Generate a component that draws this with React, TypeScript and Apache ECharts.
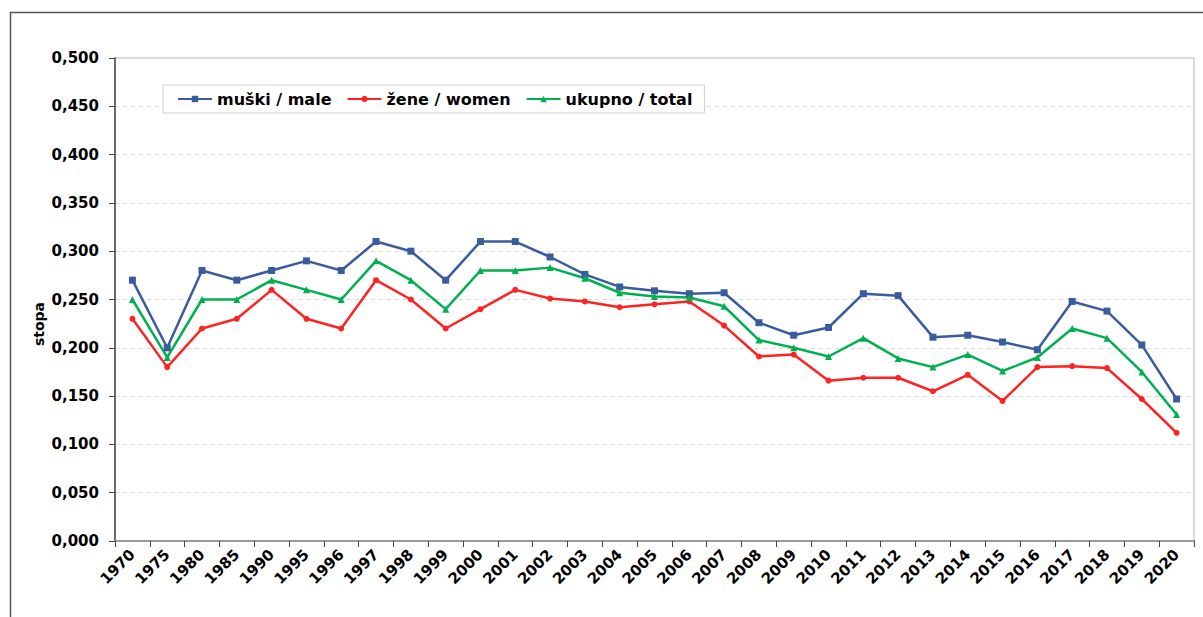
import React, { useEffect, useRef } from "react";
import * as echarts from "echarts";

const years = ["1970","1975","1980","1985","1990","1995","1996","1997","1998","1999","2000","2001","2002","2003","2004","2005","2006","2007","2008","2009","2010","2011","2012","2013","2014","2015","2016","2017","2018","2019","2020"];

const male = [0.270,0.200,0.280,0.270,0.280,0.290,0.280,0.310,0.300,0.270,0.310,0.310,0.294,0.276,0.263,0.259,0.256,0.257,0.226,0.213,0.221,0.256,0.254,0.211,0.213,0.206,0.198,0.248,0.238,0.203,0.147];
const women = [0.230,0.180,0.220,0.230,0.260,0.230,0.220,0.270,0.250,0.220,0.240,0.260,0.251,0.248,0.242,0.245,0.248,0.223,0.191,0.193,0.166,0.169,0.169,0.155,0.172,0.145,0.180,0.181,0.179,0.147,0.112];
const total = [0.250,0.190,0.250,0.250,0.270,0.260,0.250,0.290,0.270,0.240,0.280,0.280,0.283,0.272,0.257,0.253,0.252,0.243,0.208,0.200,0.191,0.210,0.189,0.180,0.193,0.176,0.190,0.220,0.210,0.175,0.131];

const seriesNames = ["muški / male", "žene / women", "ukupno / total"];
const yAxisName = "stopa";

const FONT = "'DejaVu Sans', Verdana, sans-serif";

export default function App() {
  const ref = useRef<HTMLDivElement>(null);
  useEffect(() => {
    if (!ref.current) return;
    const chart = echarts.init(ref.current, null, { renderer: "svg" });
    chart.setOption({
      animation: false,
      backgroundColor: "#ffffff",
      textStyle: { fontFamily: FONT },
      graphic: [
        {
          type: "rect",
          shape: { x: 10.5, y: 12.5, width: 1300, height: 700 },
          style: { fill: "none", stroke: "#555555", lineWidth: 1.5 },
          silent: true,
          z: -10,
        },
        {
          type: "rect",
          shape: { x: 115, y: 58, width: 1079, height: 483 },
          style: { fill: "none", stroke: "#d0d0d0", lineWidth: 1.5 },
          silent: true,
          z: -5,
        },
        {
          type: "text",
          x: 39,
          y: 324,
          rotation: Math.PI / 2,
          style: {
            text: yAxisName,
            fontFamily: FONT,
            fontWeight: "bold",
            fontSize: 14,
            fill: "#000",
            align: "center",
            verticalAlign: "middle",
          },
          silent: true,
        },
      ],
      legend: {
        left: 163,
        top: 85,
        padding: [6, 12, 6, 14],
        itemGap: 15,
        itemWidth: 34,
        itemHeight: 8,
        borderColor: "#cfcfcf",
        borderWidth: 1,
        backgroundColor: "#ffffff",
        textStyle: { fontFamily: FONT, fontWeight: "bold", fontSize: 16, color: "#000" },
        data: seriesNames,
      },
      grid: { left: 115, right: 9, top: 58, bottom: 76, containLabel: false },
      xAxis: {
        type: "category",
        data: years,
        boundaryGap: true,
        axisLine: { lineStyle: { color: "#999999", width: 2 } },
        axisTick: { show: true, alignWithLabel: false, length: 6, lineStyle: { color: "#444", width: 1 } },
        axisLabel: {
          rotate: 45,
          interval: 0,
          margin: 11,
          fontFamily: FONT,
          fontWeight: "bold",
          fontSize: 15,
          color: "#000",
        },
      },
      yAxis: {
        type: "value",
        min: 0,
        max: 0.5,
        interval: 0.05,
        axisLine: { show: true, lineStyle: { color: "#444", width: 1.5 } },
        axisTick: { show: true, length: 6, lineStyle: { color: "#444" } },
        axisLabel: {
          margin: 16,
          fontFamily: FONT,
          fontWeight: "bold",
          fontSize: 15,
          color: "#000",
          formatter: (v: number) => v.toFixed(3).replace(".", ","),
        },
        splitLine: { show: true, lineStyle: { color: "#d9d9d9", type: [4, 4], width: 1 } },
      },
      series: [
        {
          name: seriesNames[0],
          type: "line",
          data: male,
          symbol: "rect",
          symbolSize: 7,
          itemStyle: { color: "#3A5C9E" },
          lineStyle: { color: "#3A5C9E", width: 2.5 },
        },
        {
          name: seriesNames[1],
          type: "line",
          data: women,
          symbol: "circle",
          symbolSize: 6,
          itemStyle: { color: "#FF2222" },
          lineStyle: { color: "#FF2222", width: 2.5 },
        },
        {
          name: seriesNames[2],
          type: "line",
          data: total,
          symbol: "triangle",
          symbolSize: 7,
          itemStyle: { color: "#00B050" },
          lineStyle: { color: "#00B050", width: 2.5 },
        },
      ],
    });
    return () => chart.dispose();
  }, []);
  return (
    <div
      ref={ref}
      style={{ position: "fixed", left: 0, top: 0, width: 1203, height: 617, background: "#fff" }}
    />
  );
}
